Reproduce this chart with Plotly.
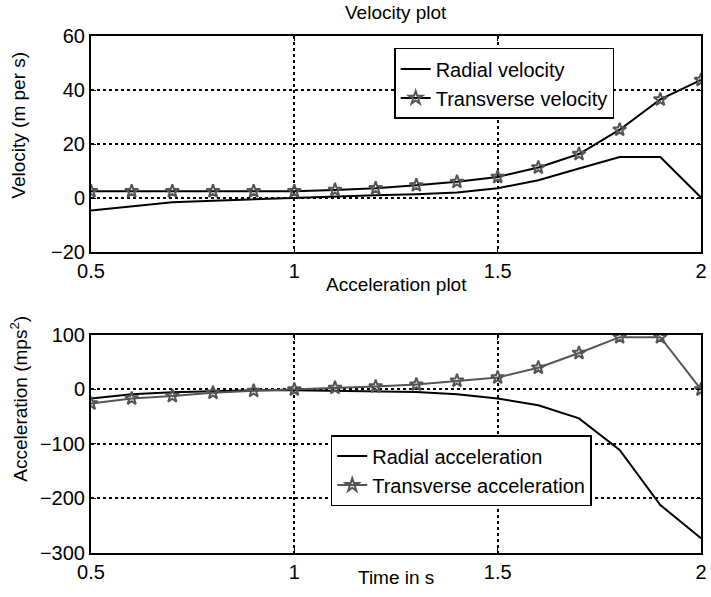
import plotly.graph_objects as go
from plotly.subplots import make_subplots

# === Data ===
time_s = [0.5, 0.6, 0.7, 0.8, 0.9, 1.0, 1.1, 1.2, 1.3, 1.4, 1.5, 1.6, 1.7, 1.8, 1.9, 2.0]

radial_vel = [-4.6, -3.0, -1.6, -1.0, -0.5, 0.2, 0.7, 1.0, 1.4, 2.0, 3.6, 6.6, 10.9, 15.2, 15.2, 0.2]
transverse_vel = [2.5, 2.5, 2.5, 2.5, 2.5, 2.5, 3.0, 3.6, 4.7, 6.0, 7.8, 11.3, 16.3, 25.3, 36.5, 43.7]

radial_acc = [-16.5, -8.6, -5.0, -3.0, -1.5, -1.5, -2.5, -4.0, -4.5, -8.6, -16.5, -28.8, -53, -111, -212, -273]
transverse_acc = [-25.6, -16.5, -12.0, -6.0, -2.5, 0.0, 3.0, 5.5, 9.0, 16.0, 22.0, 40.0, 67.0, 96.0, 96.0, 0.0]

x_ticks = [0.5, 1, 1.5, 2]
x_ticktext = ["0.5", "1", "1.5", "2"]
vel_ticks = [-20, 0, 20, 40, 60]
acc_ticks = [-300, -200, -100, 0, 100]

GRAY = "#555555"
FONT = "Liberation Sans, Arial, sans-serif"

fig = make_subplots(rows=2, cols=1)

# === Velocity ===
fig.add_trace(go.Scatter(x=time_s, y=radial_vel, mode="lines", name="Radial velocity",
                         line=dict(color="black", width=2), legend="legend"), row=1, col=1)
fig.add_trace(go.Scatter(x=time_s, y=transverse_vel, mode="lines+markers", name="Transverse velocity",
                         line=dict(color="black", width=2),
                         marker=dict(symbol="star-open", size=10, color=GRAY, line=dict(width=2, color=GRAY)),
                         legend="legend"), row=1, col=1)

# === Acceleration ===
fig.add_trace(go.Scatter(x=time_s, y=radial_acc, mode="lines", name="Radial acceleration",
                         line=dict(color="black", width=2), legend="legend2"), row=2, col=1)
fig.add_trace(go.Scatter(x=time_s, y=transverse_acc, mode="lines+markers", name="Transverse acceleration",
                         line=dict(color=GRAY, width=2),
                         marker=dict(symbol="star-open", size=10, color=GRAY, line=dict(width=2, color=GRAY)),
                         legend="legend2"), row=2, col=1)

axis_style = dict(
    showline=True, linecolor="black", linewidth=2, mirror="ticks",
    ticks="inside", ticklen=5, tickcolor="black", tickwidth=1,
    showgrid=True, gridcolor="black", gridwidth=1.5, griddash="dot",
    zeroline=False, tickfont=dict(size=20, color="black", family=FONT),
)

fig.update_xaxes(range=[0.5, 2], tickvals=x_ticks, ticktext=x_ticktext, **axis_style)
fig.update_yaxes(**axis_style)
fig.update_yaxes(range=[-20, 60], tickvals=vel_ticks, domain=[0.5822, 1.0], row=1, col=1)
fig.update_yaxes(range=[-300, 100], tickvals=acc_ticks, domain=[0.0, 0.4217], row=2, col=1)

legend_style = dict(bgcolor="white", bordercolor="black", borderwidth=1.5,
                    font=dict(size=20, color="black", family=FONT),
                    xanchor="left", yanchor="top", tracegroupgap=0)

fig.update_layout(
    width=711, height=597,
    margin=dict(l=91, r=4, t=36, b=44),
    plot_bgcolor="white", paper_bgcolor="white",
    font=dict(family=FONT, color="black", size=19),
    legend=dict(x=0.497, y=0.977, **legend_style),
    legend2=dict(x=0.393, y=0.228, **legend_style),
    annotations=[
        dict(text="Velocity plot", x=0.5, y=1.0445, xref="paper", yref="paper",
             showarrow=False, xanchor="center", yanchor="middle"),
        dict(text="Acceleration plot", x=0.5, y=0.5203, xref="paper", yref="paper",
             showarrow=False, xanchor="center", yanchor="middle"),
        dict(text="Velocity (m per s)", x=-0.1185, y=0.8279, xref="paper", yref="paper",
             showarrow=False, textangle=-90, xanchor="center", yanchor="middle"),
        dict(text="Acceleration (mps<sup>2</sup>)", x=-0.1185, y=0.298, xref="paper", yref="paper",
             showarrow=False, textangle=-90, xanchor="center", yanchor="middle"),
        dict(text="Time in s", x=0.5, y=-0.048, xref="paper", yref="paper",
             showarrow=False, xanchor="center", yanchor="middle"),
    ],
)

# page body has a default 8px margin; drop it so the figure sits at (0, 0)
fig.write_html("out.html", config={"displayModeBar": False},
               post_script="document.body.style.margin='0';")
